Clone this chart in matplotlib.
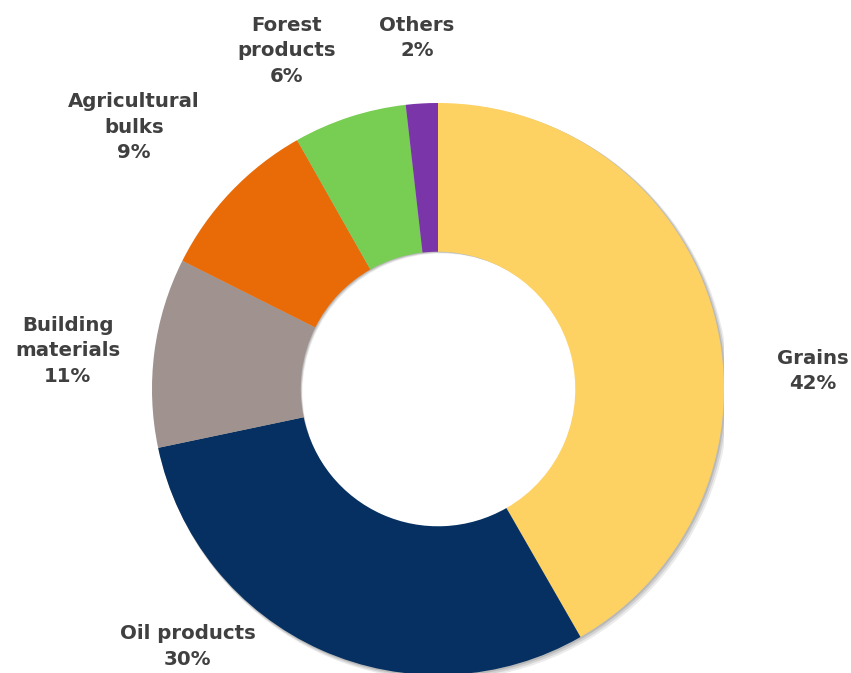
import matplotlib
matplotlib.use("Agg")
import matplotlib.pyplot as plt
from matplotlib.patches import Wedge

categories = ["Grains", "Oil products", "Building\nmaterials", "Agricultural\nbulks", "Forest\nproducts", "Others"]
values = [41.7, 30.0, 10.7, 9.4, 6.4, 1.8]
colors = ["#FDD262", "#053061", "#A0928E", "#E96B07", "#78CD53", "#7A35A8"]

# label centers in axes data units (pie radius = 1)
label_pos = [(1.31, 0.063), (-0.876, -0.901), (-1.294, 0.133), (-1.063, 0.916), (-0.531, 1.182), (-0.073, 1.227)]

W, H = 851, 673
fig = plt.figure(figsize=(W / 100, H / 100), dpi=100)
cx, cy, R = 438, 389, 286
ax = fig.add_axes([(cx - R) / W, 1 - (cy + R) / H, 2 * R / W, 2 * R / H])
ax.set_xlim(-1, 1)
ax.set_ylim(-1, 1)
ax.set_aspect("equal")
ax.axis("off")

# soft shadow
for off, a in [(0.012, 0.08), (0.008, 0.10), (0.004, 0.12)]:
    ax.add_patch(Wedge((off, -off), 1.0 + off / 2, 0, 360, width=0.52, facecolor="#000000",
                       alpha=a, linewidth=0, zorder=0))

wedges, _ = ax.pie(values, colors=colors, startangle=90, counterclock=False, radius=1.0,
                   wedgeprops=dict(width=0.52, linewidth=0), frame=False)
for w in wedges:
    w.set_zorder(2)
ax.set_xlim(-1, 1)
ax.set_ylim(-1, 1)

for cat, v, (x, y) in zip(categories, values, label_pos):
    ax.text(x, y, f"{cat}\n{round(v)}%", ha="center", va="center", fontsize=14.2, fontweight="bold",
            color="#404040", linespacing=1.45, family="DejaVu Sans", clip_on=False)

fig.savefig("out.png", dpi=100)
